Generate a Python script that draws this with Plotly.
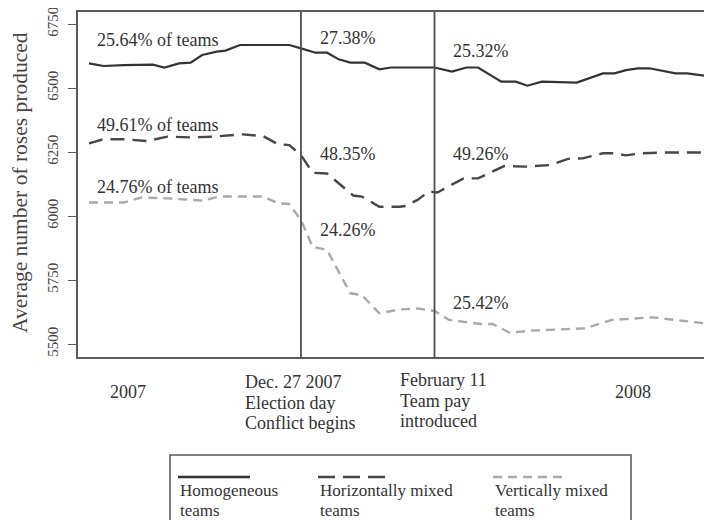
import plotly.graph_objects as go

# ---------------- data ----------------
homog_dates = ["2007-10-15", "2007-10-20", "2007-10-27", "2007-11-06", "2007-11-10",
               "2007-11-15", "2007-11-19", "2007-11-23", "2007-11-28", "2007-12-01",
               "2007-12-06", "2007-12-23", "2007-12-27", "2008-01-01", "2008-01-05",
               "2008-01-09", "2008-01-13", "2008-01-18", "2008-01-23", "2008-01-27",
               "2008-02-11", "2008-02-17", "2008-02-22", "2008-02-26", "2008-03-05",
               "2008-03-10", "2008-03-14", "2008-03-19", "2008-03-31", "2008-04-09",
               "2008-04-13", "2008-04-17", "2008-04-21", "2008-04-25", "2008-05-04",
               "2008-05-08", "2008-05-14"]
homog_vals = [6596, 6586, 6589, 6591, 6580, 6596, 6599, 6629, 6642, 6646,
              6668, 6668, 6655, 6638, 6638, 6612, 6599, 6599, 6573, 6580,
              6580, 6564, 6580, 6580, 6525, 6525, 6509, 6525, 6521, 6557,
              6557, 6570, 6577, 6577, 6557, 6557, 6548]

horiz_dates = ["2007-10-15", "2007-10-20", "2007-10-27", "2007-11-04", "2007-11-11",
               "2007-11-19", "2007-11-27", "2007-12-07", "2007-12-14", "2007-12-19",
               "2007-12-23", "2007-12-27", "2007-12-31", "2008-01-05", "2008-01-14",
               "2008-01-17", "2008-01-23", "2008-01-30", "2008-02-01", "2008-02-05",
               "2008-02-09", "2008-02-12", "2008-02-21", "2008-02-26", "2008-03-06",
               "2008-03-13", "2008-03-22", "2008-03-28", "2008-04-02", "2008-04-09",
               "2008-04-13", "2008-04-17", "2008-04-22", "2008-04-30", "2008-05-14"]
horiz_vals = [6284, 6300, 6300, 6293, 6310, 6307, 6310, 6319, 6312, 6281,
              6277, 6238, 6169, 6166, 6080, 6076, 6036, 6036, 6039, 6062,
              6095, 6092, 6147, 6147, 6195, 6193, 6199, 6223, 6225, 6245,
              6245, 6237, 6245, 6248, 6248]

vert_dates = ["2007-10-15", "2007-10-27", "2007-11-02", "2007-11-11", "2007-11-23",
              "2007-11-29", "2007-12-14", "2007-12-19", "2007-12-23", "2007-12-27",
              "2007-12-31", "2008-01-05", "2008-01-13", "2008-01-17", "2008-01-23",
              "2008-01-30", "2008-02-05", "2008-02-11", "2008-02-16", "2008-02-27",
              "2008-03-02", "2008-03-08", "2008-03-15", "2008-04-03", "2008-04-12",
              "2008-04-26", "2008-05-07", "2008-05-14"]
vert_vals = [6053, 6053, 6072, 6069, 6060, 6076, 6076, 6050, 6047, 5984,
             5880, 5867, 5698, 5691, 5620, 5635, 5639, 5629, 5594, 5578,
             5578, 5544, 5552, 5561, 5594, 5604, 5590, 5581]

event_dates = ["2007-12-27", "2008-02-11"]
y_ticks = [5500, 5750, 6000, 6250, 6500, 6750]
series_names = ["Homogeneous teams", "Horizontally mixed teams", "Vertically mixed teams"]
legend_lines = [["Homogeneous", "teams"], ["Horizontally mixed", "teams"], ["Vertically mixed", "teams"]]

share_labels = ["25.64% of teams", "27.38%", "25.32%",
                "49.61% of teams", "48.35%", "49.26%",
                "24.76% of teams", "24.26%", "25.42%"]
period_labels = [["2007"], ["Dec. 27 2007", "Election day", "Conflict begins"],
                 ["February 11", "Team pay", "introduced"], ["2008"]]

# ---------------- layout geometry (screen pixels) ----------------
SCREEN_W, SCREEN_H = 712, 520
BODY = 8  # default page margin around the plot div
W, H = SCREEN_W - BODY, SCREEN_H - BODY
L, R, T, B = 78, 712, 12, 357  # plot area in screen pixels
FONT = "Liberation Serif"
TXT = "#333333"


def px(x):
    return (x - L) / (R - L)


def py(y):
    return (B - y) / (B - T)


styles = [
    dict(color="#333333", width=2.2, dash="solid"),
    dict(color="#474747", width=2.4, dash="14px,8px"),
    dict(color="#a9a9a9", width=2.4, dash="9px,6px"),
]

fig = go.Figure()
for xs, ys, name, st in zip([homog_dates, horiz_dates, vert_dates],
                            [homog_vals, horiz_vals, vert_vals],
                            series_names, styles):
    fig.add_trace(go.Scatter(x=xs, y=ys, mode="lines", name=name,
                             line=st, showlegend=False))

for d in event_dates:
    fig.add_shape(type="line", xref="x", yref="paper", x0=d, x1=d, y0=0, y1=1,
                  line=dict(color="#4d4d4d", width=1.8))

annotations = []
share_pos = [(95, 40), (318, 38), (451, 51),
             (95, 125), (318, 154), (451, 154),
             (95, 187), (318, 230), (451, 303)]
for txt, (x, y) in zip(share_labels, share_pos):
    annotations.append(dict(text=txt, x=px(x), y=py(y), xref="paper", yref="paper",
                            xanchor="left", yanchor="middle", showarrow=False,
                            font=dict(family=FONT, size=18, color=TXT)))

period_pos = [(128, 392, "center"), (243, 382, "left"), (398, 380, "left"), (633, 392, "center")]
for lines, (x, y, anc) in zip(period_labels, period_pos):
    for i, ln in enumerate(lines):
        annotations.append(dict(text=ln, x=px(x), y=py(y + i * 20.5), xref="paper", yref="paper",
                                xanchor=anc, yanchor="middle", showarrow=False,
                                font=dict(family=FONT, size=18, color=TXT)))

annotations.append(dict(text="Average number of roses produced", x=px(20), y=py(183),
                        xref="paper", yref="paper", textangle=-90, showarrow=False,
                        xanchor="center", yanchor="middle",
                        font=dict(family=FONT, size=21.5, color="#444444")))

fig.add_shape(type="rect", xref="paper", yref="paper", x0=px(170), x1=px(631),
              y0=py(522), y1=py(455), line=dict(color="#555555", width=1.5))
legend_x = [(178, 250), (318, 388), (493, 562)]
legend_dash = ["solid", "17px,8px", "9px,6px"]
for (x0, x1), st, dsh, lines in zip(legend_x, styles, legend_dash, legend_lines):
    fig.add_shape(type="line", xref="paper", yref="paper", x0=px(x0), x1=px(x1),
                  y0=py(477), y1=py(477), line=dict(color=st["color"], width=2.6, dash=dsh))
    for i, ln in enumerate(lines):
        annotations.append(dict(text=ln, x=px(x0), y=py(490 + i * 20), xref="paper", yref="paper",
                                xanchor="left", yanchor="middle", showarrow=False,
                                font=dict(family=FONT, size=17, color=TXT)))

fig.update_layout(
    width=W, height=H,
    margin=dict(l=L - BODY, r=SCREEN_W - R, t=T - BODY, b=SCREEN_H - B, pad=0),
    paper_bgcolor="white", plot_bgcolor="white",
    font=dict(family=FONT, color=TXT),
    annotations=annotations,
    showlegend=False,
)
fig.update_xaxes(type="date", range=["2007-10-11 05:00", "2008-05-16 14:00"],
                 showgrid=False, zeroline=False, showticklabels=False, ticks="",
                 showline=True, mirror=True, linecolor="#5a5a5a", linewidth=1.6)
fig.update_yaxes(range=[5449.2, 6796.9], tickvals=y_ticks, ticktext=[str(v) for v in y_ticks],
                 tickangle=-90, ticks="outside", ticklen=8, tickwidth=1.4, tickcolor="#5a5a5a",
                 tickfont=dict(family=FONT, size=15, color="#444444"), ticklabelstandoff=4,
                 ticklabeloverflow="allow",
                 showgrid=False, zeroline=False, showline=True, linecolor="#5a5a5a",
                 linewidth=1.6, automargin=False)

fig.write_html("out.html")
